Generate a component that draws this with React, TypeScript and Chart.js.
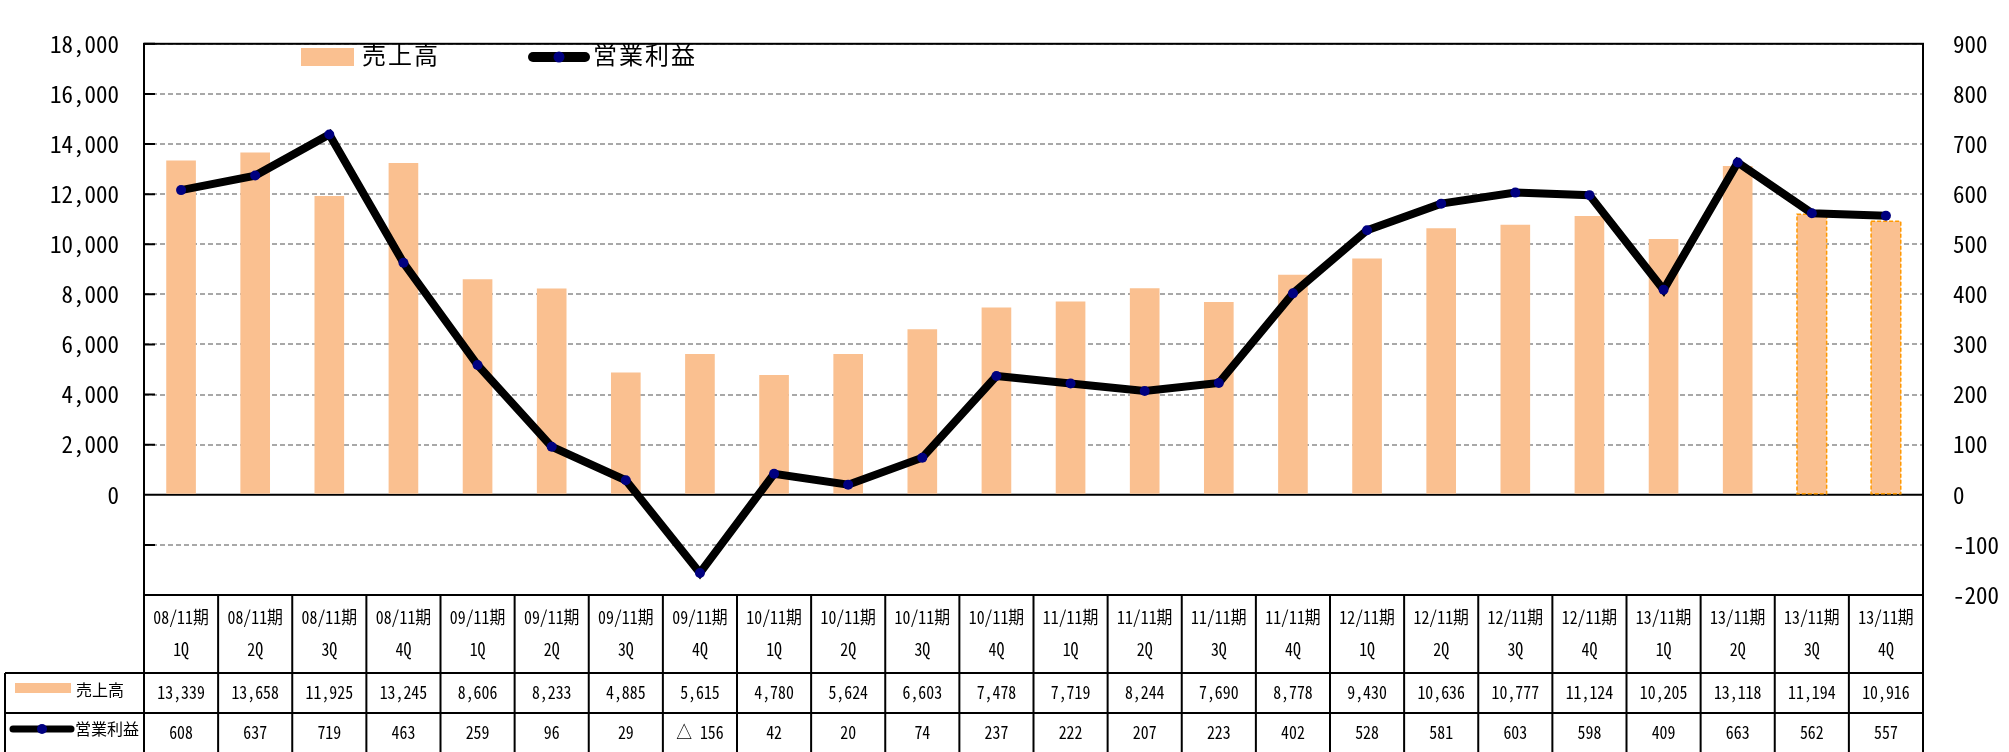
import React, { useEffect, useRef } from "react";
import { Chart, registerables } from "chart.js";

Chart.register(...registerables);

// ---- data ----
const periods = [
  "08/11期", "08/11期", "08/11期", "08/11期",
  "09/11期", "09/11期", "09/11期", "09/11期",
  "10/11期", "10/11期", "10/11期", "10/11期",
  "11/11期", "11/11期", "11/11期", "11/11期",
  "12/11期", "12/11期", "12/11期", "12/11期",
  "13/11期", "13/11期", "13/11期", "13/11期",
];
const quarters = [
  "1Q", "2Q", "3Q", "4Q", "1Q", "2Q", "3Q", "4Q",
  "1Q", "2Q", "3Q", "4Q", "1Q", "2Q", "3Q", "4Q",
  "1Q", "2Q", "3Q", "4Q", "1Q", "2Q", "3Q", "4Q",
];
const sales = [
  13339, 13658, 11925, 13245, 8606, 8233, 4885, 5615,
  4780, 5624, 6603, 7478, 7719, 8244, 7690, 8778,
  9430, 10636, 10777, 11124, 10205, 13118, 11194, 10916,
];
const profit = [
  608, 637, 719, 463, 259, 96, 29, -156,
  42, 20, 74, 237, 222, 207, 223, 402,
  528, 581, 603, 598, 409, 663, 562, 557,
];
const forecastIndexes = [22, 23];
const salesLabel = "売上高";
const profitLabel = "営業利益";
const leftAxis = { min: -4000, max: 18000, step: 2000 };
const rightAxis = { min: -200, max: 900, step: 100 };

// ---- styles ----
const MONO = '"Noto Sans Mono CJK JP", "Noto Sans CJK JP", sans-serif';
const CJK = '"Noto Sans CJK JP", sans-serif';
const BAR_COLOR = "#FAC090";
const LINE_COLOR = "#000000";
const POINT_COLOR = "#000080";
const FORECAST_BORDER = "#FF9900";

function fmtSales(v: number) {
  return v.toLocaleString("en-US");
}
function fmtProfit(v: number) {
  return v < 0 ? "△ " + Math.abs(v) : String(v);
}

function drawText(
  ctx: CanvasRenderingContext2D,
  s: string,
  x: number,
  y: number,
  font: string,
  align: CanvasTextAlign,
  sx = 1
) {
  ctx.save();
  ctx.font = font;
  ctx.fillStyle = "#000";
  ctx.textBaseline = "middle";
  ctx.textAlign = align;
  ctx.translate(x, y);
  ctx.scale(sx, 1);
  ctx.fillText(s, 0, 0);
  ctx.restore();
}

function lineIcon(ctx: CanvasRenderingContext2D, x1: number, x2: number, y: number, w: number, r: number) {
  ctx.save();
  ctx.strokeStyle = LINE_COLOR;
  ctx.lineWidth = w;
  ctx.lineCap = "round";
  ctx.beginPath();
  ctx.moveTo(x1, y);
  ctx.lineTo(x2, y);
  ctx.stroke();
  ctx.fillStyle = POINT_COLOR;
  ctx.beginPath();
  ctx.arc((x1 + x2) / 2, y, r, 0, Math.PI * 2);
  ctx.fill();
  ctx.restore();
}

const framePlugin = {
  id: "frameTable",
  beforeDatasetsDraw(chart: any) {
    const { ctx, chartArea: a } = chart;
    const y = chart.scales.y;
    ctx.save();
    ctx.strokeStyle = "#000";
    ctx.lineWidth = 2;
    ctx.beginPath();
    const y0 = y.getPixelForValue(0);
    ctx.moveTo(a.left, y0);
    ctx.lineTo(a.right, y0);
    y.ticks.forEach((t: any) => {
      const py = y.getPixelForValue(t.value);
      ctx.moveTo(a.left, py);
      ctx.lineTo(a.left + 11, py);
    });
    ctx.stroke();
    ctx.restore();
  },
  afterDatasetDraw(chart: any, args: any) {
    if (args.index !== 0) return;
    const { ctx } = chart;
    const meta = chart.getDatasetMeta(0);
    ctx.save();
    ctx.strokeStyle = FORECAST_BORDER;
    ctx.lineWidth = 1.5;
    ctx.setLineDash([4, 2]);
    forecastIndexes.forEach((i) => {
      const el = meta.data[i];
      if (!el) return;
      const { x, y, base, width } = el.getProps(["x", "y", "base", "width"], true);
      ctx.strokeRect(x - width / 2, y, width, base - y);
    });
    ctx.restore();
  },
  afterDraw(chart: any) {
    const { ctx, chartArea: a, scales } = chart;
    const xs = scales.x;
    const H = chart.height;
    // plot frame
    ctx.save();
    ctx.strokeStyle = "#000";
    ctx.lineWidth = 2;
    ctx.strokeRect(a.left, a.top, a.right - a.left, a.bottom - a.top);

    // table grid
    const r1 = a.bottom + 78;
    const r2 = r1 + 40;
    const tableLeft = 5;
    ctx.beginPath();
    for (let i = 0; i <= periods.length; i++) {
      const px = xs.getPixelForValue(i - 0.5);
      ctx.moveTo(px, a.bottom);
      ctx.lineTo(px, H);
    }
    ctx.moveTo(tableLeft, r1);
    ctx.lineTo(a.right, r1);
    ctx.moveTo(tableLeft, r2);
    ctx.lineTo(a.right, r2);
    ctx.moveTo(tableLeft, r1);
    ctx.lineTo(tableLeft, H);
    ctx.stroke();
    ctx.restore();

    // table texts
    const tFont = "18px " + MONO;
    for (let i = 0; i < periods.length; i++) {
      const cx = xs.getPixelForValue(i);
      drawText(ctx, periods[i], cx, a.bottom + 22, tFont, "center", 0.88);
      drawText(ctx, quarters[i], cx, a.bottom + 54, tFont, "center", 0.88);
      drawText(ctx, fmtSales(sales[i]), cx, r1 + 19, tFont, "center", 0.88);
      drawText(ctx, fmtProfit(profit[i]), cx, r2 + 19, tFont, "center", 0.88);
    }

    // table legend cells
    ctx.save();
    ctx.fillStyle = BAR_COLOR;
    ctx.fillRect(15, r1 + 10, 56, 10);
    ctx.restore();
    drawText(ctx, salesLabel, 76, r1 + 17, "16px " + CJK, "left");
    lineIcon(ctx, 13, 71, r2 + 16, 7, 5);
    drawText(ctx, profitLabel, 75, r2 + 16, "16px " + CJK, "left");

    // top legend
    ctx.save();
    ctx.fillStyle = BAR_COLOR;
    ctx.fillRect(301, 48, 53, 18);
    ctx.restore();
    ctx.save();
    (ctx as any).letterSpacing = "2px";
    drawText(ctx, salesLabel, 362, 55, "24px " + CJK, "left");
    ctx.restore();
    lineIcon(ctx, 533, 585, 57, 10, 5.5);
    ctx.save();
    (ctx as any).letterSpacing = "2px";
    drawText(ctx, profitLabel, 593, 55, "24px " + CJK, "left");
    ctx.restore();
  },
};

export default function App() {
  const ref = useRef<HTMLCanvasElement | null>(null);

  useEffect(() => {
    document.body.style.margin = "0";
    const canvas = ref.current;
    if (!canvas) return;
    const labels = periods.map((p, i) => [p, quarters[i]]);
    const chart = new Chart(canvas, {
      type: "bar",
      data: {
        labels,
        datasets: [
          {
            type: "bar",
            label: salesLabel,
            data: sales,
            backgroundColor: BAR_COLOR,
            borderWidth: 0,
            yAxisID: "y",
            order: 2,
            categoryPercentage: 1,
            barPercentage: 0.4,
          } as any,
          {
            type: "line",
            label: profitLabel,
            data: profit,
            borderColor: LINE_COLOR,
            borderWidth: 8,
            tension: 0,
            pointRadius: 5,
            pointBackgroundColor: POINT_COLOR,
            pointBorderWidth: 0,
            yAxisID: "y1",
            order: 1,
          } as any,
        ],
      },
      options: {
        responsive: false,
        animation: false,
        devicePixelRatio: 1,
        layout: { padding: { top: 21, bottom: 157, left: 0, right: 0 } },
        plugins: {
          legend: { display: false },
          tooltip: { enabled: false },
        },
        scales: {
          x: { display: false, offset: true, grid: { display: false } },
          y: {
            position: "left",
            min: leftAxis.min,
            max: leftAxis.max,
            afterFit: (s: any) => {
              s.width = 144;
            },
            ticks: {
              stepSize: leftAxis.step,
              padding: 25,
              color: "#000",
              font: { family: MONO, size: 23 },
              callback: (v: any) => (Number(v) < 0 ? "" : fmtSales(Number(v))),
            },
            grid: {
              drawTicks: false,
              lineWidth: 2,
              color: (c: any) => (c.tick && c.tick.value === 0 ? "rgba(0,0,0,0)" : "#a8a8a8"),
            },
            border: { display: false, dash: [5, 3] },
          },
          y1: {
            position: "right",
            min: rightAxis.min,
            max: rightAxis.max,
            afterFit: (s: any) => {
              s.width = 86;
            },
            ticks: {
              stepSize: rightAxis.step,
              padding: 30,
              color: "#000",
              font: { family: MONO, size: 23 },
              callback: (v: any) => String(v),
            },
            grid: { display: false, drawTicks: false },
            border: { display: false },
          },
        },
      } as any,
      plugins: [framePlugin],
    });
    return () => chart.destroy();
  }, []);

  return <canvas ref={ref} width={2009} height={752} style={{ display: "block" }} />;
}
